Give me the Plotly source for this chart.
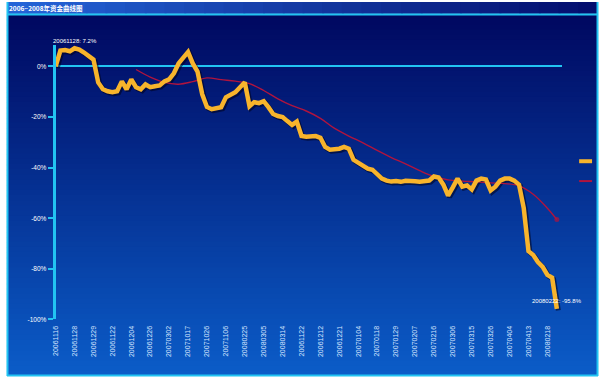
import plotly.graph_objects as go

# ---------------- data ----------------
tick_labels = ["20061116", "20061128", "20061229", "20061122", "20061204", "20061226",
               "20070302", "20071017", "20071026", "20071106", "20080225", "20080305",
               "20080314", "20061122", "20061212", "20061221", "20070104", "20070118",
               "20070129", "20070207", "20070216", "20070306", "20070315", "20070326",
               "20070404", "20070413", "20080218"]

equity = [0.0, 6.3, 6.5, 6.0, 7.2, 6.7, 5.5, 4.3, 2.7, -6.3,
          -9.0, -9.8, -10.2, -9.8, -5.9, -9.0, -5.1, -8.2, -9.0, -7.1,
          -8.2, -7.8, -7.5, -5.9, -5.1, -2.7, 1.2, 3.5, 5.7, 1.2,
          -2.0, -11.0, -16.0, -16.9, -16.5, -16.1, -12.2, -11.0, -10.2, -8.2,
          -6.3, -15.7, -14.1, -14.5, -13.7, -16.1, -18.8, -19.6, -20.0, -21.6,
          -23.1, -21.8, -27.5, -27.8, -27.8, -27.5, -28.2, -31.8, -32.9, -32.9,
          -32.5, -31.8, -32.5, -36.9, -38.0, -39.2, -40.4, -40.8, -42.4, -44.3,
          -45.1, -45.5, -45.3, -45.6, -45.2, -45.5, -45.4, -45.6, -45.3, -45.1,
          -43.5, -43.9, -46.7, -51.0, -47.8, -44.3, -47.5, -47.0, -48.6, -45.1,
          -44.3, -44.7, -49.0, -47.5, -45.1, -44.3, -44.3, -45.1, -46.7, -56.0,
          -73.0, -74.5, -77.3, -79.2, -82.4, -83.5, -95.8]

ma_index = [17, 20, 23, 26, 29, 32, 35, 38, 41, 44, 47, 50, 53, 56, 59, 62, 65,
            68, 71, 74, 77, 80, 83, 86, 89, 92, 95, 98, 101, 104, 106]
ma_values = [-1.2, -4.2, -6.3, -7.0, -6.0, -4.5, -5.2, -5.8, -6.8, -9.5, -12.8,
             -15.5, -17.6, -20.5, -24.5, -27.5, -30.2, -33.2, -36.0, -38.5, -41.2,
             -43.5, -44.8, -45.3, -45.6, -46.0, -46.3, -47.2, -50.5, -56.0, -60.5]

y_ticks = [0, -20, -40, -60, -80, -100]
y_tick_text = ["0%", "-20%", "-40%", "-60%", "-80%", "-100%"]

title_text = "2006~2008年资金曲线图"

# ---------------- layout geometry (pixels) ----------------
W, H = 600, 382
PX_PER_IDX = 4.76
PX_PER_PCT = 2.55
left_px, right_px = 52, 562
top_px, bottom_px = 45, 322
x_range = [0, (right_px - left_px) / PX_PER_IDX]
y_range = [-100, -100 + (bottom_px - top_px) / PX_PER_PCT]

def px(x):
    return x / W

def py(y):
    return 1 - y / H

xdom = [px(left_px), px(right_px)]
ydom = [py(bottom_px), py(top_px)]

CYAN = "#22c4f2"
YELLOW = "#f8b42c"
RED = "#b0143e"

idx = list(range(len(equity)))

fig = go.Figure()

# invisible host trace so the main (tick-carrying) axes are drawn
fig.add_trace(go.Scatter(x=idx, y=equity, mode="lines", xaxis="x", yaxis="y",
                         line=dict(color="rgba(0,0,0,0)", width=0),
                         hoverinfo="skip", showlegend=False))
# shadow of the equity curve (on shifted overlay axes)
fig.add_trace(go.Scatter(x=idx, y=equity, mode="lines", xaxis="x2", yaxis="y2",
                         line=dict(color="rgba(0,0,25,0.55)", width=5),
                         hoverinfo="skip", showlegend=False))
# moving average line
fig.add_trace(go.Scatter(x=ma_index, y=ma_values, mode="lines+markers", xaxis="x3", yaxis="y3",
                         line=dict(color=RED, width=1.4, shape="spline"),
                         marker=dict(size=[0] * (len(ma_index) - 1) + [5], color=RED,
                                     symbol="circle", line=dict(width=0)),
                         showlegend=False))
# equity curve
fig.add_trace(go.Scatter(x=idx, y=equity, mode="lines", xaxis="x3", yaxis="y3",
                         line=dict(color=YELLOW, width=4.5, shape="linear"),
                         showlegend=False))

shapes = []
# outer background gradient (vertical)
top_c = (0, 8, 96)
bot_c = (11, 92, 200)
n = 70
y0p, y1p = 14, 379
for k in range(n):
    t = k / (n - 1)
    c = tuple(int(round(top_c[j] + (bot_c[j] - top_c[j]) * t)) for j in range(3))
    ya = y0p + (y1p - y0p) * k / n
    yb = min(y1p, y0p + (y1p - y0p) * (k + 1) / n + 2)
    shapes.append(dict(type="rect", xref="paper", yref="paper", layer="below",
                       x0=px(3), x1=px(598), y0=py(yb), y1=py(ya),
                       fillcolor="rgb(%d,%d,%d)" % c, line=dict(width=0)))
# title bar horizontal gradient
tl = (36, 100, 215)
tr = (4, 14, 110)
m = 30
for k in range(m):
    t = k / (m - 1)
    c = tuple(int(round(tl[j] + (tr[j] - tl[j]) * t)) for j in range(3))
    xa = 3 + 595 * k / m
    xb = min(598, 3 + 595 * (k + 1) / m + 2)
    shapes.append(dict(type="rect", xref="paper", yref="paper", layer="below",
                       x0=px(xa), x1=px(xb), y0=py(14), y1=py(2),
                       fillcolor="rgb(%d,%d,%d)" % c, line=dict(width=0)))
# frame lines
frame = [(3.5, 2, 3.5, 379), (597.5, 2, 597.5, 379), (3, 378.5, 598, 378.5),
         (3, 14.5, 598, 14.5)]
for (a, b, c2, d) in frame:
    shapes.append(dict(type="line", xref="paper", yref="paper", layer="below",
                       x0=px(a), y0=py(b), x1=px(c2), y1=py(d),
                       line=dict(color=CYAN, width=2)))
# legend samples
shapes.append(dict(type="line", xref="paper", yref="paper", layer="above",
                   x0=px(579), x1=px(592), y0=py(162.5), y1=py(162.5),
                   line=dict(color=YELLOW, width=4)))
shapes.append(dict(type="line", xref="paper", yref="paper", layer="above",
                   x0=px(579), x1=px(592), y0=py(182.5), y1=py(182.5),
                   line=dict(color=RED, width=2)))

annotations = [
    dict(text=title_text, xref="paper", yref="paper", x=px(3), y=py(8.5),
         xanchor="left", yanchor="middle", showarrow=False,
         font=dict(family="Noto Sans CJK SC", size=6.5, color="white", weight="bold")),
    dict(text="%s: %.1f%%" % (tick_labels[1], equity[4]), xref="x3", yref="y3",
         x=4, y=equity[4], xanchor="center", yanchor="middle", showarrow=False,
         xshift=0, yshift=7,
         font=dict(family="Liberation Sans", size=6, color="white")),
    dict(text="20080222: %.1f%%" % equity[-1], xref="x3", yref="y3",
         x=idx[-1], y=equity[-1], xanchor="center", yanchor="middle", showarrow=False,
         xshift=0, yshift=8,
         font=dict(family="Liberation Sans", size=6, color="white")),
]

shift_x = 1.5 / PX_PER_IDX
shift_y = 1.5 / PX_PER_PCT

hidden = dict(visible=False, showgrid=False, zeroline=False, showline=False,
              showticklabels=False)

fig.update_layout(
    width=W, height=H,
    margin=dict(l=0, r=0, t=0, b=0),
    paper_bgcolor="white",
    plot_bgcolor="rgba(0,0,0,0)",
    showlegend=False,
    hovermode=False,
    shapes=shapes,
    annotations=annotations,
    xaxis=dict(domain=xdom, range=x_range, tickmode="array",
               tickvals=list(range(0, 4 * len(tick_labels), 4)), ticktext=tick_labels,
               tickangle=-90, tickfont=dict(family="Liberation Sans", size=7, color="#d6e6ff"),
               showgrid=False, zeroline=False, showline=False, ticks="",
               ticklabelstandoff=4, anchor="y"),
    yaxis=dict(domain=ydom, range=y_range, tickmode="array", tickvals=y_ticks,
               ticktext=y_tick_text,
               tickfont=dict(family="Liberation Sans", size=6.5, color="white"),
               showgrid=False, zeroline=True, zerolinecolor=CYAN, zerolinewidth=2,
               showline=True, linecolor=CYAN, linewidth=3,
               ticks="outside", ticklen=5, tickwidth=2, tickcolor=CYAN, anchor="x"),
    xaxis2=dict(domain=xdom, overlaying="x", anchor="y2",
                range=[x_range[0] - shift_x, x_range[1] - shift_x], **hidden),
    yaxis2=dict(domain=ydom, overlaying="y", anchor="x2",
                range=[y_range[0] + shift_y, y_range[1] + shift_y], **hidden),
    xaxis3=dict(domain=xdom, overlaying="x", anchor="y3", range=x_range, **hidden),
    yaxis3=dict(domain=ydom, overlaying="y", anchor="x3", range=y_range, **hidden),
)

fig.write_html("out.html", config={"displayModeBar": False},
               post_script="document.body.style.margin='0';document.body.style.overflow='hidden';")
